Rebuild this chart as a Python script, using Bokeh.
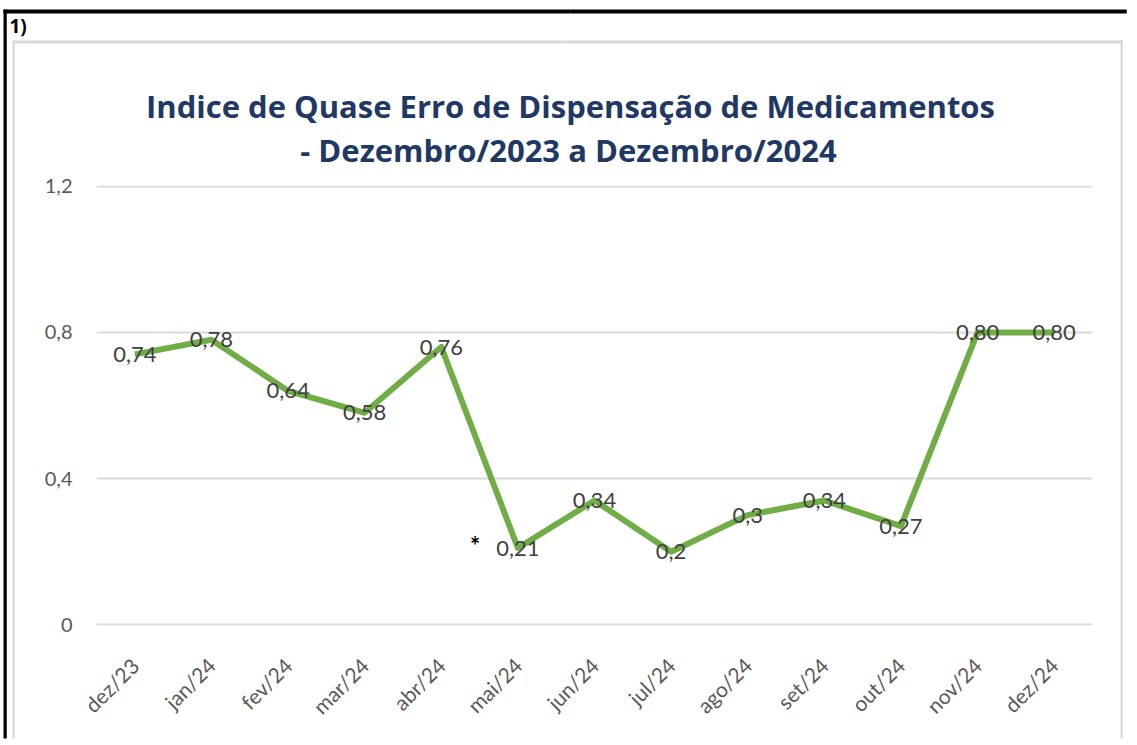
import math
from bokeh.plotting import figure
from bokeh.models import Range1d, FixedTicker, Label, ColumnDataSource
from bokeh.core.properties import value
from bokeh.embed import file_html
from bokeh.resources import INLINE

months = ["dez/23", "jan/24", "fev/24", "mar/24", "abr/24", "mai/24", "jun/24",
          "jul/24", "ago/24", "set/24", "out/24", "nov/24", "dez/24"]
values = [0.74, 0.78, 0.64, 0.58, 0.76, 0.21, 0.34, 0.20, 0.30, 0.34, 0.27, 0.80, 0.80]
value_labels = ["0,74", "0,78", "0,64", "0,58", "0,76", "0,21", "0,34", "0,2", "0,3",
                "0,34", "0,27", "0,80", "0,80"]
y_ticks = [0, 0.4, 0.8, 1.2]
y_tick_labels = ["0", "0,4", "0,8", "1,2"]
title_lines = ["Indice de Quase Erro de Dispensação de Medicamentos",
               "- Dezembro/2023 a Dezembro/2024"]
panel_label = "1)"
note_mark = "*"

x_pos = [i + 0.5 for i in range(len(months))]
source = ColumnDataSource(dict(x=x_pos, y=values, label=value_labels))

W, H = 1137, 745
p = figure(width=W, height=H, x_range=Range1d(0, len(months)), y_range=Range1d(-0.002, 1.202),
           min_border_left=96, min_border_right=45, min_border_top=185, min_border_bottom=120,
           output_backend="svg", toolbar_location=None)
p.background_fill_color = "white"
p.border_fill_color = "white"
p.outline_line_color = None

p.xaxis.ticker = FixedTicker(ticks=x_pos)
p.xaxis.major_label_overrides = {x: m for x, m in zip(x_pos, months)}
p.xaxis.major_label_orientation = math.pi / 4
p.yaxis.ticker = FixedTicker(ticks=y_ticks)
p.yaxis.major_label_overrides = {t: l for t, l in zip(y_ticks, y_tick_labels)}
for ax in (p.xaxis, p.yaxis):
    ax.axis_line_color = None
    ax.major_tick_line_color = None
    ax.minor_tick_line_color = None
    ax.major_tick_out = 0
    ax.major_tick_in = 0
    ax.major_label_text_font = "Lato"
    ax.major_label_text_color = "#595959"
p.yaxis.major_label_text_font_size = "20px"
p.yaxis.major_label_standoff = 24
p.xaxis.major_label_text_font_size = "21px"
p.xaxis.major_label_standoff = 36

p.xgrid.grid_line_color = None
p.ygrid.ticker = FixedTicker(ticks=y_ticks)
p.ygrid.grid_line_color = "#D9D9D9"
p.ygrid.grid_line_width = 2

p.line("x", "y", source=source, line_color="#70AD47", line_width=6, line_join="round")
p.text("x", "y", text="label", source=source, text_align="center", text_baseline="middle",
       text_font=value("Lato"), text_font_size="22px", text_color="#404040")

p.add_layout(Label(x=4.94, y=0.218, text=note_mark, text_align="center",
                   text_baseline="alphabetic", text_font="Lato", text_font_style="bold",
                   text_font_size="24px", text_color="black"))

def canvas_label(x, y, text, **kw):
    return Label(x=x, y=y, x_units="canvas", y_units="canvas", text=text,
                 text_baseline="alphabetic", **kw)

p.add_layout(canvas_label(570, 105, title_lines[0], text_align="center", text_font="Open Sans",
                          text_font_style="bold", text_font_size="31px",
                          text_color="#1F3864"), "above")
p.add_layout(canvas_label(568, 149, title_lines[1], text_align="center", text_font="Open Sans",
                          text_font_style="bold", text_font_size="31px",
                          text_color="#1F3864"), "above")
p.add_layout(canvas_label(9, 25, panel_label, text_align="left", text_font="Open Sans",
                          text_font_style="bold", text_font_size="19px",
                          text_color="black"), "above")

def rule(x0, y0, w, h, color, side):
    p.add_layout(Label(x=x0, y=y0, x_units="canvas", y_units="canvas", text=" ",
                       text_font_size="1px", text_align="left", text_baseline="top",
                       background_fill_color=color, border_line_color=None,
                       padding=dict(left=0, right=w, top=0, bottom=h)), side)

# chart area border (light gray)
rule(12, 40, 2, H - 48, "#D9D9D9", "left")
rule(1120, 40, 2, H - 48, "#D9D9D9", "left")
rule(12, 40, 555, 2, "#D9D9D9", "above")
rule(567, 40, 555, 2, "#D9D9D9", "above")
# outer frame (black)
rule(3, 9, 3, H - 17, "black", "left")
rule(3, 9, 567, 3, "black", "above")
rule(570, 9, 556, 3, "black", "above")

open("out.html", "w").write(file_html(p, INLINE))
